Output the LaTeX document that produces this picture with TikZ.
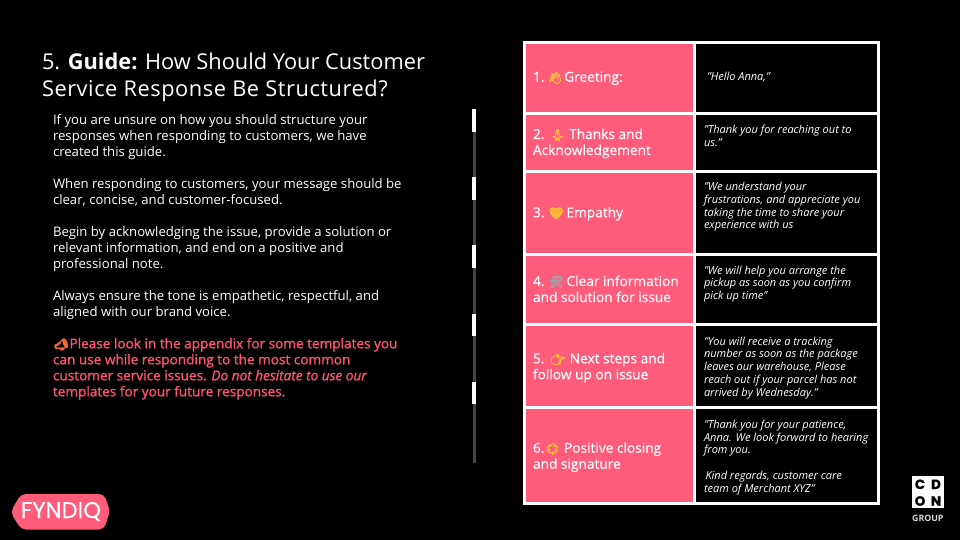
\documentclass[tikz,border=0pt]{standalone}
\usepackage{fontspec}
\setmainfont{Open Sans}
\newfontfamily\emo{Noto Emoji}[FakeBold=3.5]
\newfontfamily\logofont{Poppins}[FakeBold=0.5]
\newfontfamily\semi{Open Sans}[FakeBold=1.2,ItalicFeatures={FakeBold=1.2}]
\newfontfamily\medf{Open Sans}[FakeBold=0.3]
\definecolor{pinkcell}{HTML}{FF5C7C}
\definecolor{redtext}{HTML}{FF5274}
\definecolor{barg}{HTML}{444444}
\definecolor{emoy}{HTML}{FFC433}
\definecolor{emog}{HTML}{9AA5AD}
\definecolor{emor}{HTML}{F0663A}
\newcommand\rh[1]{\rule{0pt}{#1pt}}
\newcommand\emj[3]{\makebox[#1pt][c]{\emo\fontsize{11.5}{16}\selectfont\textcolor{#2}{#3}}}
\tikzset{
  x=1pt,y=-1pt,
  gridcell/.style={draw=white,line width=3pt,outer sep=0pt,inner sep=0pt,anchor=north west},
  pinkbox/.style={gridcell,fill=pinkcell},
  blackbox/.style={gridcell,fill=black},
  txt/.style={anchor=north west,inner sep=0pt,outer sep=0pt,align=left,text=white},
  titletxt/.style={txt,font=\fontsize{21.8}{27.3}\selectfont},
  bodytxt/.style={txt,font=\fontsize{13.15}{16}\selectfont},
  redtxt/.style={txt,text=redtext,font=\semi\fontsize{13.6}{16}\selectfont},
  celltxt/.style={txt,font=\medf\fontsize{13.7}{16}\selectfont},
  quotetxt/.style={txt,font=\fontsize{11}{12.75}\selectfont\itshape},
  cdon/.style={inner sep=0pt,text=black,font=\logofont\bfseries\fontsize{13.5}{14}\selectfont},
}
\begin{document}
\begin{tikzpicture}
\useasboundingbox (0,0) rectangle (960,540);
\fill[black] (0,0) rectangle (960,540);

% title and text
\node[titletxt] (title) at (42,49.3) {\rh{20}5. \textbf{Guide:} How Should Your Customer\\\addfontfeature{LetterSpace=2.5}Service Response Be Structured?};
\node[bodytxt] (body) at (53,112.3) {\rh{12}If you are unsure on how you should structure your\\responses when responding to customers, we have\\created this guide.\\[16pt]
When responding to customers, your message should be\\clear, concise, and customer-focused.\\[16pt]
Begin by acknowledging the issue, provide a solution or\\relevant information, and end on a positive and\\professional note.\\[16pt]
Always ensure the tone is empathetic, respectful, and\\aligned with our brand voice.};
\node[redtxt] (note) at (53,336.3) {\rh{12}\emj{16.5}{emor}{📣}Please look in the appendix for some templates you\\can use while responding to the most common\\customer service issues. \itshape Do not hesitate to use our\\templates for your future responses.};

% scroll bar
\fill[barg] (473,109) rectangle (475.7,462.7);
\foreach \a/\b in {109/131.7,177/200,245/267.5,313.5/336,381.7/404.3}
  \fill[white] (472.3,\a) rectangle (475.7,\b);

% table
\node[pinkbox,minimum width=170.7pt,minimum height=71pt] (l1) at (524,42.7) {};
\node[pinkbox,minimum width=170.7pt,minimum height=57.6pt] (l2) at (524,113.7) {};
\node[pinkbox,minimum width=170.7pt,minimum height=83.4pt] (l3) at (524,171.3) {};
\node[pinkbox,minimum width=170.7pt,minimum height=69.6pt] (l4) at (524,254.7) {};
\node[pinkbox,minimum width=170.7pt,minimum height=83pt] (l5) at (524,324.3) {};
\node[pinkbox,minimum width=170.7pt,minimum height=96pt] (l6) at (524,407.3) {};
\node[blackbox,minimum width=184pt,minimum height=71pt] (r1) at (694.7,42.7) {};
\node[blackbox,minimum width=184pt,minimum height=57.6pt] (r2) at (694.7,113.7) {};
\node[blackbox,minimum width=184pt,minimum height=83.4pt] (r3) at (694.7,171.3) {};
\node[blackbox,minimum width=184pt,minimum height=69.6pt] (r4) at (694.7,254.7) {};
\node[blackbox,minimum width=184pt,minimum height=83pt] (r5) at (694.7,324.3) {};
\node[blackbox,minimum width=184pt,minimum height=96pt] (r6) at (694.7,407.3) {};

\node[celltxt] (lt1) at (533,69.7) {\rh{12}1. \emj{11.4}{emoy}{👋} Greeting:};
\node[celltxt] (lt2) at (533,127) {\rh{12}2. \emj{16.4}{emoy}{🙏} Thanks and\\Acknowledgement};
\node[celltxt] (lt3) at (533,205.3) {\rh{12}3. \emj{13.7}{emoy}{💛} Empathy};
\node[celltxt] (lt4) at (533,274) {\rh{12}4. \emj{13.7}{emog}{🛠} Clear information\\and solution for issue};
\node[celltxt] (lt5) at (533,351.3) {\rh{12}5. \emj{17}{emoy}{👉} Next steps and\\follow up on issue};
\node[celltxt] (lt6) at (533,440.7) {\rh{12}6.\emj{16}{emoy}{🌟} Positive closing\\and signature};

\node[quotetxt] (rt1) at (707,70.7) {\rh{10}"Hello Anna,"};
\node[quotetxt] (rt2) at (704,123.3) {\rh{10}"Thank you for reaching out to\\us."};
\node[quotetxt] (rt3) at (704,180.7) {\rh{10}"We understand your\\frustrations, and appreciate you\\taking the time to share your\\experience with us};
\node[quotetxt] (rt4) at (704,264) {\rh{10}"We will help you arrange the\\pickup as soon as you confirm\\pick up time"};
\node[quotetxt] (rt5) at (704,335) {\rh{10}"You will receive a tracking\\number as soon as the package\\leaves our warehouse, Please\\reach out if your parcel has not\\arrived by Wednesday."};
\node[quotetxt] (rt6) at (704,418.3) {\rh{10}"Thank you for your patience,\\Anna. We look forward to hearing\\from you.\\[12.75pt]\hspace{1.5pt}Kind regards, customer care\\team of Merchant XYZ"};

% Fyndiq logo
\fill[pinkcell,rounded corners=5pt] (10.5,512) -- (21,494) -- (104,494) -- (110,511) -- (104,529.5) -- (21,529.5) -- cycle;
\node[inner sep=0pt,text=white,font=\logofont\fontsize{22.7}{23}\selectfont] (fyndiq) at (61,511.5) {FYNDIQ};

% CDON logo
\fill[white] (912,476) rectangle (943.7,508.3);
\node[cdon] (c) at (920,484.3) {C};
\node[cdon] (d) at (936,484.3) {D};
\node[cdon] (o) at (920,501) {O};
\node[cdon] (n) at (936,501) {N};
\node[inner sep=0pt,text=white!85!black,font=\fontsize{8.8}{9}\selectfont\bfseries] (group) at (927.8,518.5) {GROUP};
\end{tikzpicture}
\end{document}
